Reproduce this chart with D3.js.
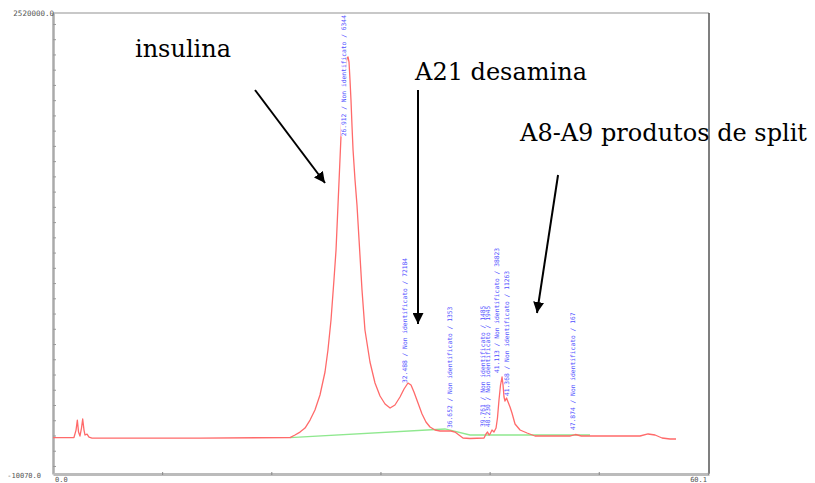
<!DOCTYPE html>
<html>
<head>
<meta charset="utf-8">
<script src="https://cdn.jsdelivr.net/npm/d3@7"></script>
<style>
  body { margin: 0; background: #fff; }
  svg { display: block; }
</style>
</head>
<body>
<svg id="chart"></svg>
<script>
// axis extents and end labels
const timeRange = [0, 60.1];
const signalRange = [-10070, 2520000];
const xEndLabels = ['0.0', '60.1'];
const yEndLabels = ['-10070.0', '2520000.0'];
const yTickStart = 34000;
const yTickStep = 83650;
const xTickStep = 10;

// red trace: retention time (min) and detector signal
const traceTime = [0, 1.92, 2.11, 2.23, 2.34, 2.47, 2.61, 2.72, 2.84, 2.93, 3.12, 3.30, 3.57, 13.47,
  21.71, 22.17, 22.63, 23.09, 23.55, 24.00, 24.46, 24.92, 25.19, 25.47, 25.74, 25.93, 26.11, 26.29,
  26.43, 26.57, 26.75, 26.94, 27.03, 27.12, 27.21, 27.30, 27.39, 27.49, 27.67, 27.85, 28.04, 28.31,
  28.58, 29.04, 29.50, 29.96, 30.42, 30.88, 31.33, 31.79, 32.16, 32.52, 32.80, 33.07, 33.44, 33.81,
  34.17, 34.54, 35.00, 35.46, 36.00, 36.46, 36.83, 37.19, 37.56, 38.20, 39.49, 39.67, 39.81, 39.95,
  40.04, 40.22, 40.40, 40.59, 40.72, 40.86, 41.00, 41.14, 41.23, 41.32, 41.41, 41.55, 41.69, 41.87,
  42.05, 42.33, 42.79, 43.43, 44.16, 46.45, 47.40, 47.87, 48.40, 51.95, 53.78, 54.52, 55.16, 55.80,
  56.53, 57.08];
const traceSignal = [190000, 190000, 231000, 286000, 220000, 198000, 242000, 292000, 231000, 204000,
  209000, 192000, 187000, 187000,
  190000, 204000, 220000, 242000, 286000, 341000, 423500, 549700, 670500, 835100, 1054700, 1219300,
  1466300, 1713300, 1905300, 2070000, 2207200, 2273000, 2278600, 2251000, 2152200, 2042500, 1905300,
  1768100, 1603500, 1466300, 1274200, 999800, 780200, 604600, 489400, 418000, 374100, 352200, 368600,
  412500, 456400, 489400, 478400, 440000, 379600, 319200, 275300, 247900, 231400, 225900, 225900,
  225900, 220400, 204000, 187500, 184800, 187500, 209500, 220400, 204000, 209500, 231400, 220400,
  242400, 297300, 396100, 478400, 522300, 478400, 412500, 390600, 407000, 385100, 357600, 324700,
  264300, 231400, 215000, 198500, 198500, 198500, 206700, 198500, 198500, 198500, 209500, 204000,
  187500, 182000, 182000];

// green integration baseline
const baseTime = [21.71, 35.91, 38.20, 49.20];
const baseSignal = [190000, 237000, 204000, 204000];

// peak table
const peakTimes = [26.912, 32.488, 36.652, 39.761, 40.230, 41.113, 41.368, 47.874];
const peakAreas = [6344, 72184, 1353, 1485, 1945, 38823, 11263, 167];
const peakHeights = [2278600, 478400, 231400, 237000, 237000, 533300, 407000, 220400];
const peakName = 'Non identificato';

// hand-drawn annotations: text anchor and arrow tail/tip in (time, signal)
const noteTexts = ['insulina', 'A21 desamina', 'A8-A9 produtos de split'];
const noteAt = [[7.51, 2278600], [33.17, 2152300], [42.79, 1817500]];
const arrowFrom = [[18.51, 2097400], [33.44, 2097400], [46.27, 1631000]];
const arrowTo = [[24.92, 1587000], [33.44, 813200], [44.34, 873500]];

const width = 815, height = 483;
const margin = { top: 13, right: 106, bottom: 9, left: 53 };

const svg = d3.select('#chart').attr('width', width).attr('height', height);

const x = d3.scaleLinear().domain(timeRange).range([margin.left, width - margin.right]);
const y = d3.scaleLinear().domain(signalRange).range([height - margin.bottom, margin.top]);

// frame: top and right borders
svg.append('line')
    .attr('x1', x(timeRange[0])).attr('x2', x(timeRange[1]))
    .attr('y1', y(signalRange[1])).attr('y2', y(signalRange[1]))
    .attr('stroke', '#c8c8c8').attr('stroke-width', 2);
svg.append('line')
    .attr('x1', x(timeRange[1])).attr('x2', x(timeRange[1]))
    .attr('y1', y(signalRange[1])).attr('y2', y(signalRange[0]))
    .attr('stroke', '#555').attr('stroke-width', 1.5);

const yTicks = d3.range(yTickStart, signalRange[1], yTickStep);
const yAxis = svg.append('g')
    .attr('transform', `translate(${x(timeRange[0])},0)`)
    .call(d3.axisLeft(y).tickValues(yTicks).tickSize(-3).tickSizeOuter(0).tickFormat(''));
yAxis.select('.domain').attr('stroke', '#aaa').attr('stroke-width', 2.5);
yAxis.selectAll('.tick line').attr('stroke', '#999');

const xTicks = d3.range(xTickStep, timeRange[1], xTickStep);
const xAxis = svg.append('g')
    .attr('transform', `translate(0,${y(signalRange[0])})`)
    .call(d3.axisBottom(x).tickValues(xTicks).tickSize(3).tickSizeOuter(0).tickFormat(''));
xAxis.select('.domain').attr('stroke', '#bbb').attr('stroke-width', 3);
xAxis.selectAll('.tick line').attr('stroke', '#888').attr('transform', 'translate(0,-2)');

const axisFont = 'DejaVu Sans Mono, monospace';
svg.append('text')
    .attr('x', x(timeRange[0]) + 1).attr('y', y(signalRange[1]))
    .attr('dy', '0.35em').attr('text-anchor', 'end')
    .attr('font-family', axisFont).attr('font-size', 7.5).attr('fill', '#555')
    .text(yEndLabels[1]);
svg.append('text')
    .attr('x', x(timeRange[0]) - 12).attr('y', y(signalRange[0]) + 2)
    .attr('dy', '0.35em').attr('text-anchor', 'end')
    .attr('font-family', axisFont).attr('font-size', 7).attr('fill', '#555')
    .text(yEndLabels[0]);
svg.append('text')
    .attr('x', x(timeRange[0]) + 2).attr('y', height - 1.5)
    .attr('font-family', axisFont).attr('font-size', 7).attr('fill', '#555')
    .text(xEndLabels[0]);
svg.append('text')
    .attr('x', x(timeRange[1]) - 2).attr('y', height - 1)
    .attr('text-anchor', 'end')
    .attr('font-family', axisFont).attr('font-size', 7).attr('fill', '#555')
    .text(xEndLabels[1]);

// baseline and trace
const line = d3.line().x(d => x(d[0])).y(d => y(d[1]));
svg.append('path')
    .datum(baseTime.map((t, i) => [t, baseSignal[i]]))
    .attr('d', line)
    .attr('fill', 'none').attr('stroke', '#8fe88f').attr('stroke-width', 1.3);
svg.append('path')
    .datum(traceTime.map((t, i) => [t, traceSignal[i]]))
    .attr('d', line)
    .attr('fill', 'none').attr('stroke', '#ff6a6a').attr('stroke-width', 1.3)
    .attr('stroke-linejoin', 'round');

// vertical peak labels; the two crowded labels near 41 min are pushed apart
const labelSize = 6.3;
const labelNudge = [-1, -1, -1, -2, -2, -3, 4, -1];
const peaks = peakTimes.map((t, i) => {
    const text = `${t.toFixed(3)} / ${peakName} / ${peakAreas[i]}`;
    const len = text.length * labelSize * 0.602;
    let bottom = y(peakHeights[i]) - 2;
    const clamped = bottom - len < margin.top + 2;
    if (clamped) bottom = margin.top + 2 + len;
    return { t, text, len, bottom, clamped, dx: labelNudge[i] };
});

const labels = svg.append('g');
labels.selectAll('g')
    .data(peaks)
    .join('g')
    .attr('transform', d => `translate(${x(d.t) + d.dx},${d.bottom}) rotate(-90)`)
    .each(function (d) {
        const g = d3.select(this);
        if (d.clamped) {
            g.append('rect')
                .attr('x', 0).attr('y', -labelSize * 0.8)
                .attr('width', d.len).attr('height', labelSize * 0.95)
                .attr('fill', '#fff');
        }
        g.append('text')
            .attr('font-family', axisFont).attr('font-size', labelSize)
            .attr('fill', '#5050ff')
            .text(d.text);
    });

// annotations
const defs = svg.append('defs');
defs.append('marker')
    .attr('id', 'head')
    .attr('viewBox', '0 0 10 10')
    .attr('refX', 10).attr('refY', 5)
    .attr('markerWidth', 5.5).attr('markerHeight', 5.5)
    .attr('markerUnits', 'strokeWidth')
    .attr('orient', 'auto')
    .append('path').attr('d', 'M0,0 L10,5 L0,10 z').attr('fill', '#000');

svg.append('g').selectAll('line')
    .data(arrowFrom)
    .join('line')
    .attr('x1', d => x(d[0])).attr('y1', d => y(d[1]))
    .attr('x2', (d, i) => x(arrowTo[i][0])).attr('y2', (d, i) => y(arrowTo[i][1]))
    .attr('stroke', '#000').attr('stroke-width', 2)
    .attr('marker-end', 'url(#head)');

svg.append('g').selectAll('text')
    .data(noteTexts)
    .join('text')
    .attr('x', (d, i) => x(noteAt[i][0])).attr('y', (d, i) => y(noteAt[i][1]))
    .attr('font-family', 'DejaVu Serif, serif').attr('font-size', 24)
    .attr('fill', '#000')
    .text(d => d);
</script>
</body>
</html>
